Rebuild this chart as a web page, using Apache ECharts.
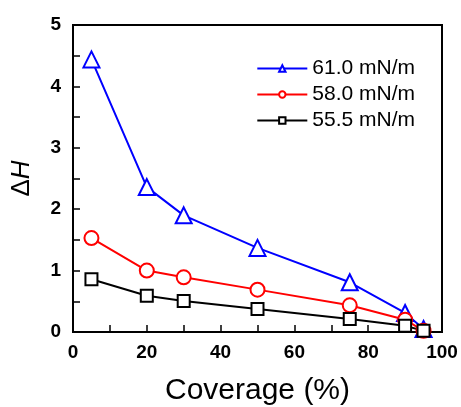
<!DOCTYPE html>
<html><head><meta charset="utf-8">
<script src="https://cdn.jsdelivr.net/npm/echarts@6/dist/echarts.min.js"></script>
<style>html,body{margin:0;padding:0;background:#fff}#c{width:461px;height:407px}</style>
</head><body><div id="c"></div>
<script>
const coverage = [5, 20, 30, 50, 75, 90, 95];
const s610 = [4.44, 2.36, 1.90, 1.37, 0.81, 0.31, 0.05];
const s580 = [1.53, 1.00, 0.89, 0.69, 0.435, 0.20, 0.02];
const s555 = [0.86, 0.59, 0.505, 0.375, 0.21, 0.10, 0.02];
const names = ['61.0 mN/m', '58.0 mN/m', '55.5 mN/m'];
const xTicks = [0, 20, 40, 60, 80, 100];
const yTicks = [0, 1, 2, 3, 4, 5];

const chart = echarts.init(document.getElementById('c'));
const font = '"Liberation Sans", Arial, sans-serif';
function mk(name, vals, color, sym, size) {
  return {
    name, type: 'line', data: coverage.map((x, i) => [x, vals[i]]),
    symbol: sym, symbolSize: size, showAllSymbol: true,
    lineStyle: { color, width: 2 },
    itemStyle: { color: color, borderColor: color, borderWidth: 2 },
    emphasis: { disabled: true }
  };
}
chart.setOption({
  animation: false,
  grid: { left: 73, right: 19, top: 25, bottom: 75, show: true, borderColor: '#000', borderWidth: 2,
    containLabel: false, outerBoundsMode: 'none' },
  legend: {
    right: 41, top: 53, orient: 'vertical', itemWidth: 50, itemHeight: 8, itemGap: 5,
    textStyle: { fontFamily: font, fontSize: 21, color: '#000' },
    data: names
  },
  xAxis: {
    type: 'value', min: 0, max: 100, interval: 20,
    name: 'Coverage (%)', nameLocation: 'middle', nameGap: 44,
    nameTextStyle: { fontFamily: font, fontSize: 30, color: '#000' },
    axisLine: { lineStyle: { color: '#000', width: 2 } },
    axisTick: { inside: true, length: 7, lineStyle: { color: '#000', width: 1.5 } },
    minorTick: { show: true, splitNumber: 2, length: 7, lineStyle: { color: '#000', width: 1.5 } },
    axisLabel: { fontFamily: font, fontWeight: 'bold', fontSize: 19, color: '#000', margin: 11,
      formatter: v => xTicks.includes(v) ? String(v) : '' },
    splitLine: { show: false }
  },
  yAxis: {
    type: 'value', min: 0, max: 5, interval: 1,
    name: '{d|Δ}{h|H}', nameLocation: 'middle', nameGap: 38, nameRotate: 90,
    nameTextStyle: { rich: {
      d: { fontFamily: font, fontSize: 26, color: '#000' },
      h: { fontFamily: font, fontSize: 26, fontStyle: 'italic', color: '#000' } } },
    axisLine: { lineStyle: { color: '#000', width: 2 } },
    axisTick: { inside: true, length: 7, lineStyle: { color: '#000', width: 1.5 } },
    minorTick: { show: true, splitNumber: 2, length: 7, lineStyle: { color: '#000', width: 1.5 } },
    axisLabel: { fontFamily: font, fontWeight: 'bold', fontSize: 19, color: '#000', margin: 12,
      formatter: v => yTicks.includes(v) ? String(v) : '' },
    splitLine: { show: false }
  },
  series: [
    mk(names[0], s610, '#0000ff', 'emptyTriangle', 16),
    mk(names[1], s580, '#ff0000', 'emptyCircle', 14),
    mk(names[2], s555, '#000000', 'emptyRect', 12)
  ]
});
</script></body></html>
